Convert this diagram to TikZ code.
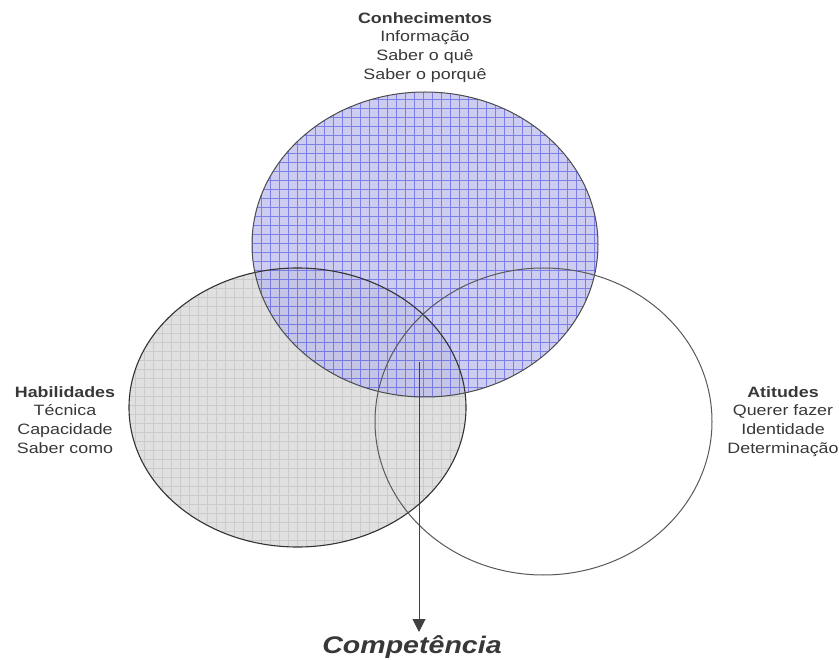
\documentclass[tikz,border=0pt]{standalone}
\usepackage{fontspec}
\setmainfont{Liberation Sans}[FakeStretch=1.19]
\usetikzlibrary{arrows.meta}
\definecolor{txt}{HTML}{383838}
\definecolor{bluefill}{RGB}{188,188,236}
\definecolor{bluegrid}{RGB}{100,100,228}
\definecolor{grayfill}{RGB}{224,224,224}
\definecolor{graygrid}{RGB}{203,203,203}
\tikzset{
  lbl/.style={align=center, inner sep=0pt, text=txt, font=\fontsize{15}{18.8}\selectfont},
  outline/.style={draw=black!80, line width=1.1pt},
  arr/.style={draw=black!75, line width=1pt, -{Triangle[length=13pt,width=13pt]}}
}
\begin{document}
\begin{tikzpicture}[x=1pt,y=-1pt]
\useasboundingbox (0,0) rectangle (839,660);
% left (gray) ellipse
\begin{scope}
  \clip (297.5,407.5) ellipse [x radius=168.5pt, y radius=139.5pt];
  \fill[grayfill] (120,260) rectangle (480,560);
  \draw[graygrid, line width=0.6pt, step=9pt] (120,260) grid (480,560);
\end{scope}
% top (blue) ellipse
\begin{scope}[opacity=0.75]
  \clip (425,244.5) ellipse [x radius=173pt, y radius=152.5pt];
  \fill[bluefill] (240,80) rectangle (610,410);
  \draw[bluegrid, line width=0.55pt, step=9pt] (240,80) grid (610,410);
\end{scope}
% outlines
\draw[outline] (297.5,407.5) ellipse [x radius=168.5pt, y radius=139.5pt];
\draw[draw=black!70, line width=1pt] (425,244.5) ellipse [x radius=173pt, y radius=152.5pt];
\draw[draw=black!65, line width=1pt] (543.5,421.5) ellipse [x radius=168.5pt, y radius=153.5pt];
% labels
\node[lbl, anchor=north] (con) at (425,12) {\textbf{Conhecimentos}\\Informação\\Saber o quê\\Saber o porquê};
\node[lbl, anchor=north] (hab) at (65,386) {\textbf{Habilidades}\\Técnica\\Capacidade\\Saber como};
\node[lbl, anchor=north] (ati) at (783,386) {\textbf{Atitudes}\\Querer fazer\\Identidade\\Determinação};
% arrow
\coordinate (s) at (419,362);
\coordinate (e) at (419,632);
\node[inner sep=0pt, text=txt, font=\fontsize{24}{28}\selectfont\bfseries\itshape, anchor=base] (comp) at (412,653) {Competência};
\draw[arr] (s) -- (e);
\end{tikzpicture}
\end{document}
